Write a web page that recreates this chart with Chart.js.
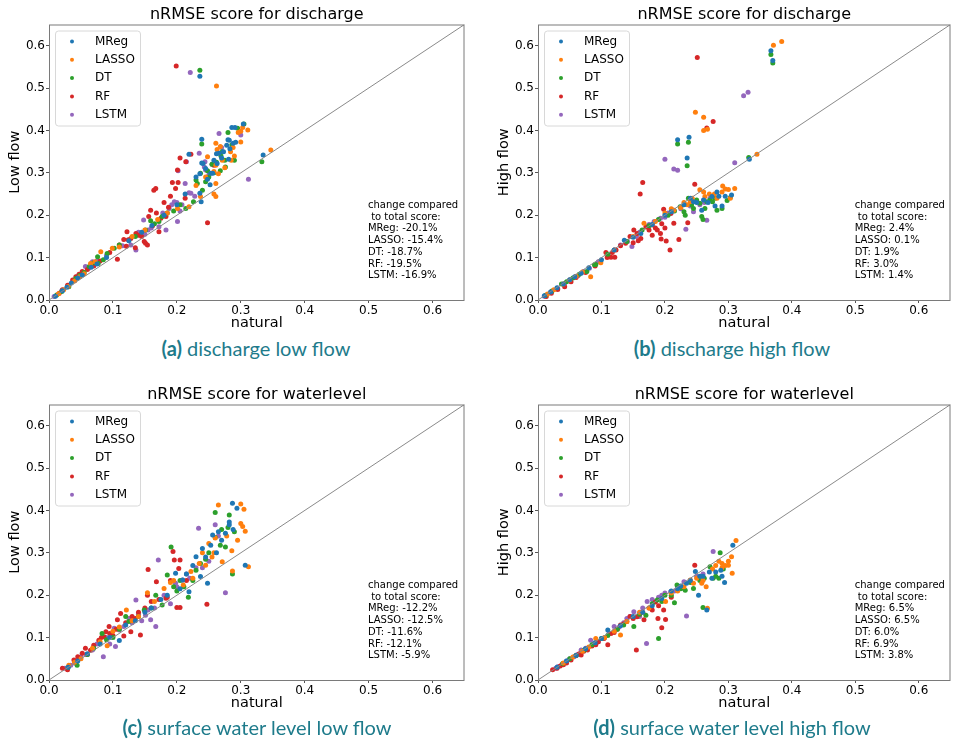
<!DOCTYPE html>
<html>
<head>
<meta charset="utf-8">
<script src="https://cdn.jsdelivr.net/npm/chart.js@4.4.1/dist/chart.umd.min.js"></script>
<style>
  body { margin: 0; background: #fff; }
  #page { position: relative; width: 953px; height: 740px; overflow: hidden; background: #fff; }
  .panel { position: absolute; }
  .caption {
    position: absolute; white-space: nowrap; transform: translateX(-50%);
    font-family: 'Lato', sans-serif; font-size: 20px; line-height: 24px; color: #1e7b8b;
  }
  .caption b { font-weight: 700; }
</style>
</head>
<body>
<div id="page">
  <div class="panel" style="left:0px;top:0px;width:476px;height:336px"><canvas id="chartA" width="476" height="336"></canvas></div>
  <div class="panel" style="left:489px;top:0px;width:464px;height:336px"><canvas id="chartB" width="464" height="336"></canvas></div>
  <div class="panel" style="left:0px;top:380px;width:476px;height:336px"><canvas id="chartC" width="476" height="336"></canvas></div>
  <div class="panel" style="left:489px;top:380px;width:464px;height:336px"><canvas id="chartD" width="464" height="336"></canvas></div>
  <div class="caption" style="left:256px;top:336px"><b>(a)</b> discharge low flow</div>
  <div class="caption" style="left:732px;top:336px"><b>(b)</b> discharge high flow</div>
  <div class="caption" style="left:257px;top:715px"><b>(c)</b> surface water level low flow</div>
  <div class="caption" style="left:732px;top:715px"><b>(d)</b> surface water level high flow</div>
</div>
<script>
// series shared by all panels
const seriesNames = ['MReg', 'LASSO', 'DT', 'RF', 'LSTM'];
const seriesColors = ['#1f77b4', '#ff7f0e', '#2ca02c', '#d62728', '#9467bd'];
const tickValues = [0, 0.1, 0.2, 0.3, 0.4, 0.5, 0.6];
const axisMax = 0.65;
const identityLine = [[0, 0], [0.65, 0.65]];

// (a) discharge, low flow  [natural, low flow]
const aMReg = [[0.010,0.009],[0.021,0.022],[0.035,0.040],[0.052,0.059],[0.066,0.077],[0.161,0.176],[0.213,0.250],[0.219,0.344],[0.236,0.252],[0.238,0.232],[0.236,0.298],[0.239,0.323],[0.239,0.379],[0.241,0.322],[0.252,0.272],[0.253,0.299],[0.256,0.299],[0.258,0.330],[0.263,0.322],[0.266,0.346],[0.273,0.350],[0.280,0.378],[0.281,0.332],[0.282,0.377],[0.283,0.357],[0.286,0.407],[0.288,0.370],[0.291,0.407],[0.304,0.415],[0.335,0.342],[0.236,0.528],[0.245,0.310],[0.270,0.335],[0.230,0.290],
  [0.028,0.030],[0.045,0.052],[0.075,0.085],[0.090,0.100],[0.125,0.140],[0.145,0.160],[0.180,0.200],[0.200,0.225],[0.248,0.285],[0.262,0.345],[0.278,0.365],[0.292,0.372]];
const aLasso = [[0.015,0.015],[0.023,0.024],[0.040,0.045],[0.055,0.062],[0.065,0.086],[0.081,0.114],[0.099,0.122],[0.130,0.150],[0.170,0.190],[0.201,0.216],[0.219,0.220],[0.237,0.244],[0.248,0.338],[0.258,0.303],[0.261,0.244],[0.261,0.275],[0.261,0.318],[0.261,0.370],[0.263,0.355],[0.262,0.505],[0.265,0.298],[0.271,0.330],[0.275,0.312],[0.284,0.350],[0.290,0.340],[0.300,0.373],[0.303,0.407],[0.311,0.401],[0.300,0.398],[0.347,0.354],[0.230,0.270],[0.285,0.330],
  [0.030,0.032],[0.048,0.055],[0.072,0.090],[0.110,0.125],[0.150,0.165],[0.185,0.205],[0.245,0.290],[0.268,0.362],[0.288,0.360],[0.296,0.395],[0.258,0.250]];
const aDT = [[0.012,0.012],[0.031,0.031],[0.042,0.051],[0.055,0.065],[0.063,0.079],[0.076,0.102],[0.077,0.086],[0.091,0.110],[0.102,0.122],[0.151,0.165],[0.159,0.187],[0.172,0.185],[0.177,0.197],[0.185,0.205],[0.214,0.216],[0.226,0.232],[0.230,0.283],[0.232,0.275],[0.236,0.542],[0.237,0.299],[0.239,0.368],[0.240,0.259],[0.245,0.279],[0.250,0.290],[0.255,0.320],[0.262,0.325],[0.269,0.340],[0.271,0.350],[0.276,0.314],[0.280,0.395],[0.286,0.366],[0.290,0.330],[0.305,0.415],[0.333,0.326],[0.268,0.305],
  [0.020,0.020],[0.048,0.058],[0.070,0.088],[0.085,0.095],[0.110,0.130],[0.135,0.150],[0.165,0.180],[0.195,0.210],[0.205,0.225],[0.248,0.305],[0.258,0.300],[0.275,0.330],[0.295,0.405]];
const aRF = [[0.016,0.016],[0.021,0.024],[0.029,0.035],[0.037,0.047],[0.042,0.055],[0.047,0.061],[0.052,0.067],[0.107,0.096],[0.110,0.130],[0.117,0.143],[0.121,0.127],[0.122,0.161],[0.124,0.142],[0.135,0.123],[0.136,0.157],[0.141,0.153],[0.149,0.138],[0.151,0.134],[0.154,0.130],[0.156,0.197],[0.159,0.212],[0.164,0.259],[0.167,0.263],[0.172,0.161],[0.175,0.193],[0.180,0.230],[0.183,0.197],[0.187,0.219],[0.193,0.277],[0.198,0.263],[0.199,0.552],[0.201,0.307],[0.202,0.277],[0.214,0.326],[0.222,0.344],[0.248,0.182],[0.258,0.318],[0.213,0.240],
  [0.060,0.072],[0.070,0.080],[0.080,0.092],[0.095,0.112],[0.128,0.145],[0.145,0.150],[0.162,0.175],[0.168,0.205],[0.190,0.245],[0.205,0.335]];
const aLSTM = [[0.008,0.008],[0.031,0.035],[0.044,0.055],[0.052,0.063],[0.057,0.079],[0.068,0.090],[0.128,0.130],[0.136,0.118],[0.138,0.153],[0.146,0.157],[0.148,0.189],[0.150,0.155],[0.172,0.173],[0.183,0.165],[0.188,0.216],[0.196,0.232],[0.200,0.230],[0.201,0.185],[0.202,0.305],[0.213,0.275],[0.215,0.326],[0.219,0.253],[0.221,0.537],[0.222,0.252],[0.235,0.346],[0.243,0.314],[0.244,0.326],[0.245,0.307],[0.250,0.295],[0.266,0.393],[0.300,0.389],[0.312,0.285],[0.208,0.225],[0.160,0.170],
  [0.020,0.022],[0.040,0.046],[0.062,0.075],[0.075,0.092],[0.090,0.105],[0.115,0.128],[0.140,0.160],[0.155,0.165],[0.178,0.205],[0.192,0.225],[0.205,0.210],[0.228,0.245],[0.255,0.320],[0.270,0.360]];
const aChange = ['-20.1%', '-15.4%', '-18.7%', '-19.5%', '-16.9%'];

// (b) discharge, high flow
const bMReg = [[0.010,0.010],[0.030,0.029],[0.050,0.048],[0.068,0.063],[0.100,0.095],[0.136,0.141],[0.162,0.157],[0.220,0.378],[0.235,0.335],[0.238,0.384],[0.240,0.240],[0.250,0.230],[0.258,0.212],[0.261,0.236],[0.274,0.244],[0.279,0.222],[0.282,0.255],[0.290,0.222],[0.305,0.248],[0.333,0.332],[0.367,0.588],[0.370,0.565],[0.230,0.225],[0.200,0.200],[0.285,0.245],
  [0.020,0.019],[0.040,0.038],[0.058,0.055],[0.080,0.076],[0.120,0.118],[0.150,0.148],[0.180,0.178],[0.210,0.208],[0.245,0.232],[0.268,0.230],[0.295,0.245]];
const bLasso = [[0.015,0.014],[0.040,0.038],[0.060,0.056],[0.083,0.055],[0.099,0.088],[0.167,0.181],[0.214,0.212],[0.225,0.218],[0.240,0.232],[0.243,0.240],[0.248,0.443],[0.261,0.255],[0.261,0.431],[0.261,0.400],[0.263,0.244],[0.267,0.403],[0.282,0.240],[0.291,0.269],[0.300,0.261],[0.303,0.240],[0.310,0.263],[0.345,0.344],[0.371,0.601],[0.384,0.610],[0.270,0.250],[0.290,0.255],[0.200,0.205],[0.230,0.230],
  [0.025,0.024],[0.050,0.047],[0.070,0.066],[0.120,0.118],[0.150,0.150],[0.185,0.185],[0.210,0.215],[0.235,0.225],[0.255,0.260],[0.278,0.250],[0.295,0.262]];
const bDT = [[0.012,0.011],[0.037,0.038],[0.055,0.052],[0.077,0.067],[0.089,0.083],[0.091,0.084],[0.164,0.165],[0.175,0.175],[0.220,0.368],[0.224,0.220],[0.230,0.208],[0.232,0.200],[0.235,0.317],[0.237,0.372],[0.237,0.240],[0.245,0.216],[0.250,0.236],[0.258,0.197],[0.263,0.216],[0.266,0.232],[0.271,0.236],[0.279,0.240],[0.282,0.212],[0.290,0.216],[0.332,0.336],[0.367,0.579],[0.370,0.559],[0.303,0.242],[0.260,0.190],
  [0.022,0.021],[0.045,0.043],[0.065,0.061],[0.110,0.108],[0.140,0.138],[0.190,0.190],[0.205,0.200],[0.215,0.210],[0.242,0.225],[0.255,0.228],[0.275,0.232],[0.298,0.235]];
const bRF = [[0.013,0.008],[0.021,0.016],[0.031,0.025],[0.042,0.031],[0.052,0.043],[0.107,0.112],[0.109,0.100],[0.115,0.101],[0.117,0.112],[0.121,0.101],[0.123,0.118],[0.138,0.134],[0.151,0.165],[0.156,0.157],[0.161,0.250],[0.162,0.145],[0.165,0.277],[0.180,0.153],[0.180,0.177],[0.188,0.165],[0.193,0.157],[0.194,0.144],[0.198,0.214],[0.202,0.139],[0.208,0.118],[0.209,0.204],[0.214,0.181],[0.222,0.143],[0.236,0.182],[0.247,0.273],[0.251,0.572],[0.266,0.406],[0.276,0.421],[0.170,0.172],[0.145,0.150],
  [0.060,0.053],[0.075,0.065],[0.090,0.080],[0.130,0.128],[0.150,0.135],[0.158,0.140],[0.175,0.165],[0.185,0.170],[0.195,0.180],[0.200,0.170]];
const bLSTM = [[0.020,0.019],[0.031,0.028],[0.042,0.039],[0.063,0.057],[0.081,0.075],[0.141,0.138],[0.148,0.126],[0.160,0.160],[0.172,0.173],[0.183,0.185],[0.193,0.193],[0.200,0.332],[0.205,0.205],[0.214,0.212],[0.214,0.309],[0.220,0.306],[0.233,0.167],[0.245,0.208],[0.255,0.225],[0.261,0.236],[0.266,0.188],[0.271,0.240],[0.310,0.324],[0.324,0.482],[0.331,0.490],[0.225,0.215],[0.130,0.130],
  [0.010,0.009],[0.050,0.047],[0.072,0.067],[0.095,0.090],[0.110,0.108],[0.120,0.118],[0.155,0.150],[0.175,0.178],[0.190,0.190],[0.200,0.195],[0.210,0.205],[0.240,0.222],[0.250,0.232],[0.262,0.230]];
const bChange = ['2.4%', '0.1%', '1.9%', '3.0%', '1.4%'];

// (c) water level, low flow
const cMReg = [[0.030,0.030],[0.060,0.062],[0.110,0.093],[0.150,0.160],[0.185,0.200],[0.198,0.252],[0.209,0.236],[0.219,0.208],[0.225,0.270],[0.230,0.291],[0.237,0.244],[0.248,0.228],[0.253,0.318],[0.256,0.342],[0.262,0.300],[0.276,0.346],[0.282,0.366],[0.282,0.373],[0.287,0.417],[0.294,0.405],[0.307,0.271],[0.240,0.310],[0.270,0.330],[0.160,0.170],[0.120,0.130],
  [0.045,0.045],[0.080,0.085],[0.095,0.100],[0.135,0.140],[0.175,0.190],[0.205,0.215],[0.215,0.250],[0.245,0.290],[0.265,0.350],[0.288,0.355]];
const cLasso = [[0.031,0.035],[0.050,0.050],[0.068,0.075],[0.091,0.081],[0.121,0.165],[0.130,0.140],[0.154,0.206],[0.180,0.216],[0.190,0.230],[0.210,0.224],[0.222,0.256],[0.225,0.240],[0.245,0.271],[0.250,0.322],[0.258,0.300],[0.265,0.413],[0.271,0.279],[0.286,0.305],[0.287,0.257],[0.300,0.369],[0.300,0.415],[0.303,0.362],[0.305,0.403],[0.307,0.351],[0.312,0.267],[0.260,0.335],[0.235,0.275],[0.100,0.115],
  [0.040,0.042],[0.080,0.090],[0.110,0.125],[0.140,0.150],[0.165,0.185],[0.195,0.235],[0.240,0.300],[0.255,0.290],[0.278,0.340],[0.295,0.330]];
const cDT = [[0.044,0.035],[0.060,0.060],[0.083,0.110],[0.100,0.100],[0.125,0.138],[0.140,0.150],[0.149,0.165],[0.167,0.200],[0.177,0.177],[0.185,0.248],[0.191,0.314],[0.200,0.210],[0.211,0.220],[0.218,0.195],[0.230,0.259],[0.237,0.275],[0.250,0.300],[0.260,0.336],[0.260,0.395],[0.268,0.318],[0.276,0.314],[0.282,0.389],[0.287,0.250],[0.290,0.350],[0.225,0.235],[0.120,0.150],
  [0.030,0.030],[0.070,0.075],[0.090,0.095],[0.110,0.120],[0.160,0.170],[0.195,0.220],[0.205,0.235],[0.245,0.285],[0.270,0.355],[0.280,0.360]];
const cRF = [[0.021,0.028],[0.029,0.024],[0.039,0.047],[0.045,0.055],[0.052,0.063],[0.057,0.075],[0.065,0.070],[0.078,0.094],[0.086,0.102],[0.089,0.114],[0.094,0.126],[0.100,0.105],[0.107,0.142],[0.112,0.157],[0.117,0.104],[0.128,0.114],[0.143,0.106],[0.150,0.170],[0.154,0.200],[0.155,0.261],[0.168,0.232],[0.172,0.190],[0.183,0.193],[0.194,0.303],[0.196,0.283],[0.200,0.171],[0.203,0.263],[0.205,0.283],[0.205,0.171],[0.215,0.235],[0.247,0.179],[0.130,0.150],
  [0.060,0.060],[0.070,0.082],[0.082,0.100],[0.095,0.110],[0.105,0.120],[0.120,0.135],[0.135,0.145],[0.140,0.160],[0.160,0.185],[0.185,0.195],[0.190,0.235]];
const cLSTM = [[0.025,0.028],[0.034,0.035],[0.050,0.055],[0.068,0.071],[0.085,0.055],[0.095,0.085],[0.102,0.122],[0.104,0.079],[0.117,0.126],[0.125,0.145],[0.136,0.189],[0.145,0.140],[0.151,0.153],[0.159,0.142],[0.167,0.126],[0.171,0.283],[0.180,0.200],[0.198,0.228],[0.209,0.236],[0.220,0.240],[0.234,0.358],[0.240,0.265],[0.250,0.280],[0.260,0.366],[0.276,0.206],[0.265,0.340],[0.190,0.180],
  [0.040,0.040],[0.058,0.060],[0.075,0.085],[0.090,0.100],[0.110,0.118],[0.130,0.135],[0.140,0.155],[0.155,0.165],[0.165,0.170],[0.200,0.220],[0.215,0.250],[0.230,0.265]];
const cChange = ['-12.2%', '-12.5%', '-11.6%', '-12.1%', '-5.9%'];

// (d) water level, high flow
const dMReg = [[0.030,0.030],[0.060,0.058],[0.090,0.088],[0.110,0.118],[0.150,0.150],[0.180,0.175],[0.210,0.210],[0.234,0.228],[0.240,0.235],[0.248,0.256],[0.253,0.200],[0.260,0.245],[0.266,0.165],[0.274,0.240],[0.280,0.255],[0.288,0.259],[0.290,0.245],[0.294,0.230],[0.307,0.318],[0.220,0.215],
  [0.045,0.045],[0.075,0.074],[0.100,0.098],[0.130,0.128],[0.165,0.160],[0.195,0.192],[0.225,0.222],[0.255,0.245],[0.270,0.255]];
const dLasso = [[0.040,0.040],[0.070,0.068],[0.091,0.098],[0.120,0.115],[0.130,0.106],[0.160,0.160],[0.201,0.185],[0.220,0.210],[0.230,0.220],[0.240,0.236],[0.250,0.240],[0.258,0.228],[0.267,0.169],[0.275,0.262],[0.285,0.280],[0.290,0.275],[0.295,0.270],[0.300,0.271],[0.305,0.291],[0.306,0.252],[0.312,0.329],[0.265,0.220],[0.290,0.265],
  [0.055,0.054],[0.080,0.078],[0.105,0.100],[0.140,0.138],[0.175,0.170],[0.210,0.205],[0.245,0.228],[0.260,0.235],[0.280,0.270],[0.300,0.280]];
const dDT = [[0.039,0.039],[0.050,0.050],[0.073,0.071],[0.100,0.098],[0.125,0.120],[0.151,0.126],[0.170,0.153],[0.180,0.180],[0.188,0.189],[0.190,0.098],[0.200,0.200],[0.215,0.182],[0.219,0.224],[0.232,0.212],[0.240,0.230],[0.245,0.216],[0.255,0.235],[0.260,0.171],[0.271,0.267],[0.276,0.240],[0.280,0.245],[0.287,0.300],[0.285,0.240],
  [0.060,0.058],[0.085,0.083],[0.110,0.105],[0.135,0.130],[0.160,0.155],[0.195,0.185],[0.210,0.200],[0.225,0.215],[0.262,0.240],[0.292,0.262]];
const dRF = [[0.023,0.024],[0.035,0.033],[0.045,0.040],[0.052,0.047],[0.060,0.058],[0.068,0.059],[0.078,0.071],[0.085,0.080],[0.091,0.083],[0.104,0.098],[0.110,0.083],[0.115,0.110],[0.125,0.120],[0.130,0.130],[0.140,0.138],[0.145,0.150],[0.155,0.071],[0.156,0.149],[0.160,0.155],[0.167,0.142],[0.180,0.165],[0.185,0.184],[0.189,0.145],[0.195,0.123],[0.198,0.165],[0.201,0.143],[0.210,0.195],[0.247,0.271],
  [0.030,0.028],[0.040,0.036],[0.065,0.062],[0.072,0.068],[0.095,0.090],[0.120,0.112],[0.135,0.132],[0.150,0.145],[0.165,0.160],[0.175,0.170],[0.190,0.175]];
const dLSTM = [[0.028,0.028],[0.031,0.031],[0.045,0.045],[0.057,0.055],[0.068,0.071],[0.075,0.075],[0.083,0.094],[0.095,0.090],[0.105,0.100],[0.120,0.126],[0.135,0.135],[0.151,0.161],[0.160,0.150],[0.172,0.185],[0.171,0.086],[0.180,0.190],[0.195,0.200],[0.209,0.208],[0.220,0.220],[0.230,0.232],[0.234,0.151],[0.240,0.235],[0.256,0.240],[0.276,0.303],[0.190,0.195],
  [0.038,0.037],[0.050,0.050],[0.062,0.060],[0.088,0.085],[0.112,0.110],[0.128,0.125],[0.140,0.145],[0.145,0.150],[0.165,0.170],[0.185,0.185],[0.200,0.205],[0.215,0.210],[0.250,0.245],[0.260,0.250]];
const dChange = ['6.5%', '6.5%', '6.0%', '6.9%', '3.8%'];

const FONT = "'DejaVu Sans', sans-serif";

// title, axis titles, frame, legend box and the "change compared" note
const panelDecor = {
    id: 'panelDecor',
    afterDraw(chart, args, opts) {
        const ctx = chart.ctx;
        const area = chart.chartArea;
        const xs = chart.scales.x, ys = chart.scales.y;
        ctx.save();

        ctx.strokeStyle = '#7a7a7a';
        ctx.lineWidth = 1;
        ctx.strokeRect(area.left + 0.5, area.top + 0.5, area.right - area.left - 1, area.bottom - area.top);

        ctx.fillStyle = '#000';
        ctx.textBaseline = 'middle';
        ctx.textAlign = 'center';
        ctx.font = '16px ' + FONT;
        ctx.fillText(opts.title, (area.left + area.right) / 2, area.top - 9.5);

        ctx.font = '14.5px ' + FONT;
        ctx.fillText(opts.xLabel, (area.left + area.right) / 2, area.bottom + 23.5);
        ctx.save();
        ctx.translate(area.left - 34, (area.top + area.bottom) / 2);
        ctx.rotate(-Math.PI / 2);
        ctx.fillText(opts.yLabel, 0, 0);
        ctx.restore();

        // legend
        const lx = area.left + 6, ly = area.top + 6;
        ctx.fillStyle = 'rgba(255,255,255,0.85)';
        ctx.strokeStyle = '#d8d8d8';
        ctx.beginPath();
        ctx.roundRect(lx + 0.5, ly + 0.5, 85, 95, 3);
        ctx.fill();
        ctx.stroke();
        ctx.font = '12px ' + FONT;
        ctx.textAlign = 'left';
        chart.data.datasets.forEach((ds, i) => {
            if (ds.isGuide) return;
            const k = i - 1;
            const y = ly + 11 + k * 18.3;
            ctx.fillStyle = ds.backgroundColor;
            ctx.beginPath();
            ctx.arc(lx + 17, y, 2, 0, Math.PI * 2);
            ctx.fill();
            ctx.fillStyle = '#000';
            ctx.fillText(ds.label, lx + 40, y);
        });

        // change note
        const nx = xs.getPixelForValue(0.499);
        const ny = ys.getPixelForValue(0.223);
        ctx.font = '10px ' + FONT;
        const lines = ['change compared', ' to total score:'].concat(
            seriesNames.map((n, i) => n + ': ' + opts.changes[i]));
        lines.forEach((t, i) => ctx.fillText(t, nx, ny + i * 11.7));
        ctx.restore();
    }
};

function axis(fitKey, fitSize) {
    return {
        type: 'linear',
        min: 0,
        max: axisMax,
        afterBuildTicks: s => { s.ticks = tickValues.map(v => ({ value: v })); },
        afterFit: s => { s[fitKey] = fitSize; },
        ticks: {
            font: { family: FONT, size: 12 },
            color: '#000',
            padding: 1,
            maxRotation: 0,
            autoSkip: false,
            callback: v => Number(v).toFixed(1)
        },
        grid: { drawOnChartArea: false, drawTicks: true, tickLength: 3, color: '#555' },
        border: { display: false }
    };
}

function makeChart(id, series, title, yLabel, changes) {
    const datasets = [{
        type: 'line',
        isGuide: true,
        data: identityLine.map(p => ({ x: p[0], y: p[1] })),
        borderColor: '#8a8a8a',
        borderWidth: 1,
        pointRadius: 0
    }];
    series.forEach((pts, i) => {
        datasets.push({
            label: seriesNames[i],
            data: pts.map(p => ({ x: p[0], y: p[1] })),
            backgroundColor: seriesColors[i],
            borderWidth: 0,
            pointRadius: 2.5,
            pointHoverRadius: 2.5
        });
    });
    const rightCol = id === 'chartB' || id === 'chartD';
    return new Chart(document.getElementById(id), {
        type: 'scatter',
        data: { datasets: datasets },
        options: {
            responsive: false,
            animation: false,
            layout: { padding: { top: 24.5, right: rightCol ? 0 : 11.5, left: 0, bottom: 0 } },
            scales: { x: axis('height', 36), y: axis('width', 49) },
            plugins: {
                legend: { display: false },
                tooltip: { enabled: false },
                panelDecor: { title: title, xLabel: 'natural', yLabel: yLabel, changes: changes }
            }
        },
        plugins: [panelDecor]
    });
}

makeChart('chartA', [aMReg, aLasso, aDT, aRF, aLSTM], 'nRMSE score for discharge', 'Low flow', aChange);
makeChart('chartB', [bMReg, bLasso, bDT, bRF, bLSTM], 'nRMSE score for discharge', 'High flow', bChange);
makeChart('chartC', [cMReg, cLasso, cDT, cRF, cLSTM], 'nRMSE score for waterlevel', 'Low flow', cChange);
makeChart('chartD', [dMReg, dLasso, dDT, dRF, dLSTM], 'nRMSE score for waterlevel', 'High flow', dChange);
</script>
</body>
</html>
